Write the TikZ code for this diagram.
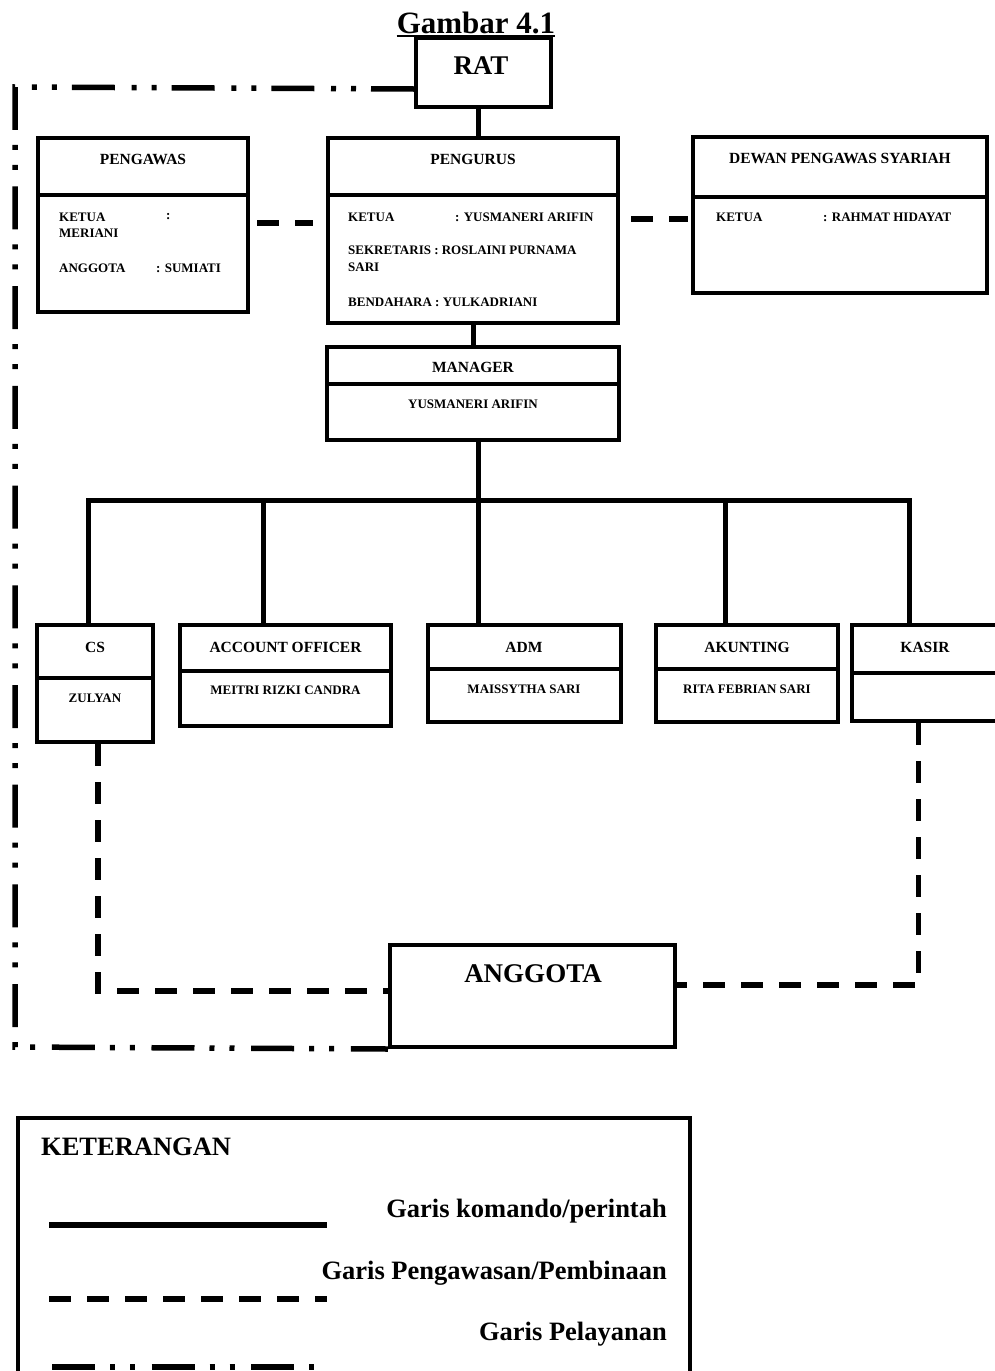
\documentclass[tikz,border=0pt]{standalone}
\usepackage{fontspec}
\setmainfont{Liberation Serif}
\tikzset{
  box/.style={draw, line width=4pt, inner sep=0pt, rectangle},
  divider/.style={line width=4pt},
  cmd/.style={line width=5pt},
  supline/.style={line width=5.5pt, dash pattern=on 22pt off 16pt},
  svc/.style={line width=5.5pt, dash pattern=on 43pt off 15pt on 5pt off 15pt on 5pt off 16.7pt},
  ttl/.style={font=\fontsize{15.5}{18}\selectfont\bfseries, inner sep=0pt},
  txt/.style={font=\fontsize{13}{15}\selectfont\bfseries, inner sep=0pt},
  big/.style={font=\fontsize{27}{31}\selectfont\bfseries, inner sep=0pt},
  leg/.style={font=\fontsize{26.5}{30}\selectfont\bfseries, inner sep=0pt},
}
\newcommand{\orgbox}[5]{\node[box, minimum width={(#4)-(#2)}, minimum height={(#5)-(#3)}] (#1) at ({((#2)+(#4))/2},{((#3)+(#5))/2}) {};}
\begin{document}
\begin{tikzpicture}[x=1pt,y=-1pt]
\useasboundingbox (0,0) rectangle (994,1371);

% title
\node[big, font=\fontsize{31}{35}\selectfont\bfseries, anchor=base] (TITLE) at (476,33) {Gambar 4.1};
\draw[line width=2pt] ([yshift=-2.5pt]TITLE.base west) -- ([yshift=-2.5pt]TITLE.base east);

% boxes
\orgbox{RAT}{416}{38}{551}{107}
\node[big, anchor=base] (RATT) at (481,74) {RAT};

\orgbox{PENGAWAS}{38}{138}{248}{312}
\draw[divider] (PENGAWAS.west |- 0,195) -- (PENGAWAS.east |- 0,195);
\node[ttl] (PGW) at (143,159) {PENGAWAS};
\node[txt, anchor=west] (PGW1) at (59,217) {KETUA};
\node[txt, anchor=west] (PGW1c) at (166,217) {:};
\node[txt, anchor=west] (PGW2) at (59,233) {MERIANI};
\node[txt, anchor=west] (PGW3) at (59,268) {ANGGOTA};
\node[txt, anchor=west] (PGW3c) at (156,268) {: SUMIATI};

\orgbox{PENGURUS}{328}{138}{618}{323}
\draw[divider] (PENGURUS.west |- 0,195) -- (PENGURUS.east |- 0,195);
\node[ttl] (PGR) at (473,159) {PENGURUS};
\node[txt, anchor=west] (PGR1) at (348,217) {KETUA};
\node[txt, anchor=west] (PGR1c) at (455,217) {: YUSMANERI ARIFIN};
\node[txt, anchor=west] (PGR2) at (348,250) {SEKRETARIS : ROSLAINI PURNAMA};
\node[txt, anchor=west] (PGR3) at (348,267.5) {SARI};
\node[txt, anchor=west] (PGR4) at (348,302) {BENDAHARA : YULKADRIANI};

\orgbox{DEWAN}{693}{137}{987}{293}
\draw[divider] (DEWAN.west |- 0,197) -- (DEWAN.east |- 0,197);
\node[ttl] (DPS) at (840,158) {DEWAN PENGAWAS SYARIAH};
\node[txt, anchor=west] (DPS1) at (716,217) {KETUA};
\node[txt, anchor=west] (DPS1c) at (823,217) {: RAHMAT HIDAYAT};

\orgbox{MANAGER}{327}{347}{619}{440}
\draw[divider] (MANAGER.west |- 0,384) -- (MANAGER.east |- 0,384);
\node[ttl] (MGR) at (473,367.5) {MANAGER};
\node[txt] (MGR1) at (473,404) {YUSMANERI ARIFIN};

\orgbox{CS}{37}{625}{153}{742}
\draw[divider] (CS.west |- 0,678) -- (CS.east |- 0,678);
\node[ttl] (CST) at (95,647) {CS};
\node[txt] (CS1) at (95,698) {ZULYAN};

\orgbox{AO}{180}{625}{391}{726}
\draw[divider] (AO.west |- 0,671) -- (AO.east |- 0,671);
\node[ttl] (AOT) at (285.5,647) {ACCOUNT OFFICER};
\node[txt] (AO1) at (285.5,690) {MEITRI RIZKI CANDRA};

\orgbox{ADM}{428}{625}{621}{722}
\draw[divider] (ADM.west |- 0,669) -- (ADM.east |- 0,669);
\node[ttl] (ADMT) at (524,647) {ADM};
\node[txt] (ADM1) at (524,689) {MAISSYTHA SARI};

\orgbox{AKT}{656}{625}{838}{722}
\draw[divider] (AKT.west |- 0,669) -- (AKT.east |- 0,669);
\node[ttl] (AKTT) at (747,647) {AKUNTING};
\node[txt] (AKT1) at (747,689) {RITA FEBRIAN SARI};

\orgbox{KASIR}{852}{625}{999}{721}
\draw[divider] (KASIR.west |- 0,673) -- (KASIR.east |- 0,673);
\node[ttl] (KST) at (925,647) {KASIR};

\orgbox{ANGGOTA}{390}{945}{675}{1047}
\node[big, anchor=base] (AGT) at (533,982) {ANGGOTA};

% command lines
\draw[cmd] ([xshift=-5.5pt]RAT.south) -- ([xshift=-5.5pt]RAT.south |- PENGURUS.north);
\draw[cmd] (PENGURUS.south) -- (MANAGER.north);
\coordinate (b1) at (88,500);
\coordinate (b2) at (263,500);
\coordinate (b4) at (725,500);
\coordinate (b5) at (909,500);
\draw[cmd] ([xshift=5pt]MANAGER.south) -- ([xshift=5pt]MANAGER.south |- ADM.north);
\draw[cmd] (b1 |- CS.north) -- (b1) -- (b5) -- (b5 |- KASIR.north);
\draw[cmd] (b2) -- (b2 |- AO.north);
\draw[cmd] (b4) -- (b4 |- AKT.north);

% supervision lines
\draw[supline, shorten <=7pt, shorten >=13pt] (PENGAWAS.east |- 0,223) -- (PENGURUS.west |- 0,223);
\draw[supline, shorten <=11pt, shorten >=3pt] (PENGURUS.east |- 0,219) -- (DEWAN.west |- 0,219);
\draw[supline] ([xshift=3pt]CS.south) |- ([yshift=5pt]ANGGOTA.west);
\draw[supline] ([xshift=-7pt]KASIR.south) |- ([yshift=11pt]ANGGOTA.east);

% service line
\coordinate (c1) at (15,87);
\coordinate (c2) at (15,1047);
\draw[svc] ([yshift=20pt]RAT.south west) -- (c1) -- (c2) -- (ANGGOTA.south west);

% legend
\node[box, minimum width=672, minimum height=300] (LEG) at (354,1268) {};
\node[leg, anchor=base west] (KET) at (41,1155) {KETERANGAN};
\node[leg, anchor=base east] (L1) at (667,1217) {Garis komando/perintah};
\node[leg, anchor=base east] (L2) at (667,1279) {Garis Pengawasan/Pembinaan};
\node[leg, anchor=base east] (L3) at (667,1340) {Garis Pelayanan};
\coordinate (l1a) at (49,1225);
\coordinate (l1b) at (327,1225);
\coordinate (l2a) at (49,1299);
\coordinate (l2b) at (327,1299);
\coordinate (l3a) at (52,1367);
\coordinate (l3b) at (327,1367);
\draw[cmd, line width=6pt] (l1a) -- (l1b);
\draw[supline] (l2a) -- (l2b);
\draw[svc] (l3a) -- (l3b);
\end{tikzpicture}
\end{document}
